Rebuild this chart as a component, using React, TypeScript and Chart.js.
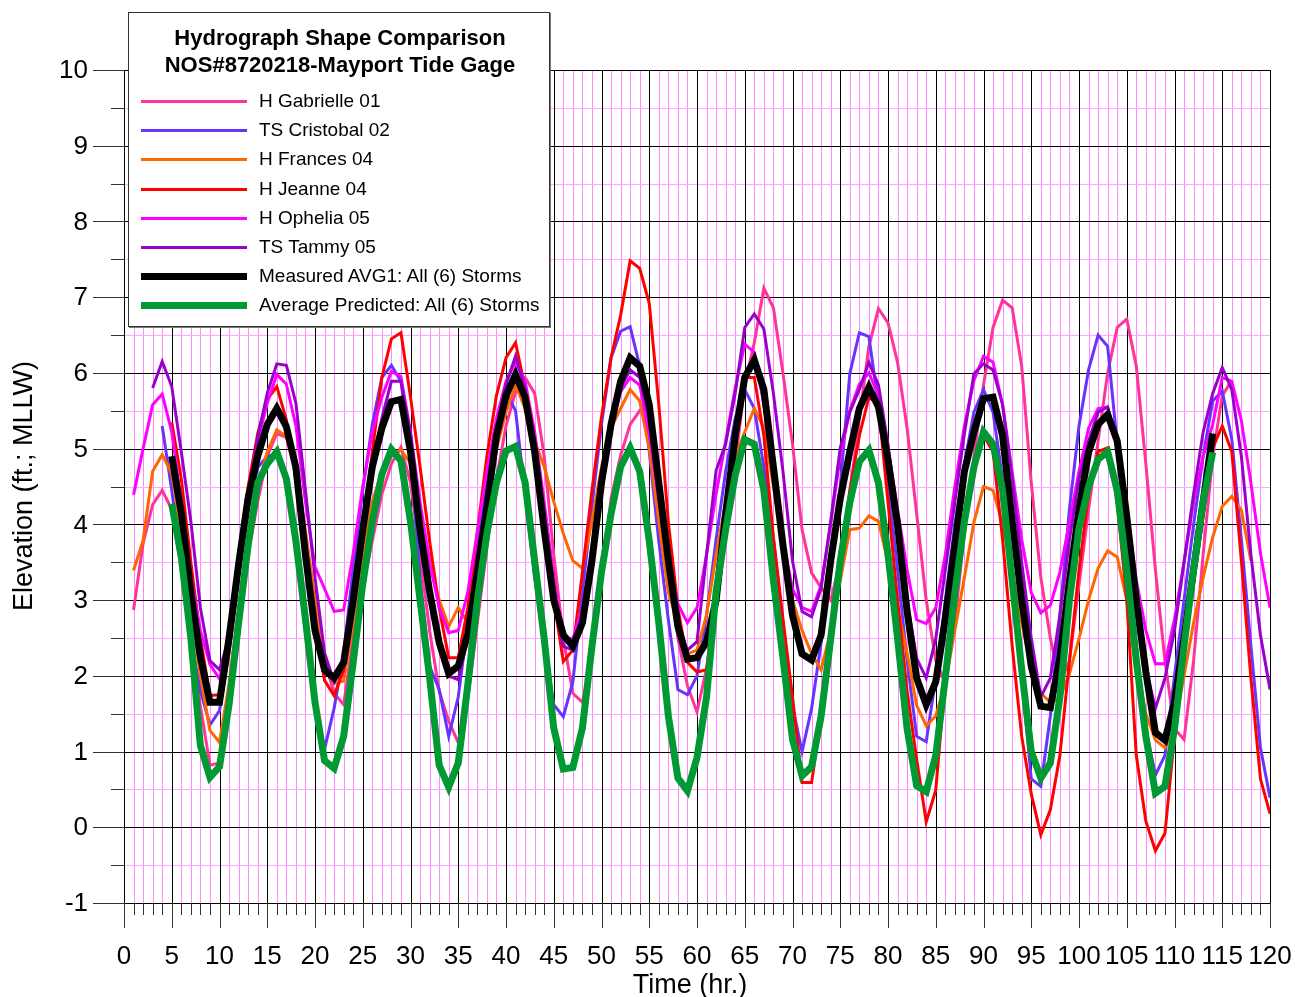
import React, { useEffect, useRef } from "react";
import { Chart, registerables } from "chart.js";

Chart.register(...registerables);

// ---- axis ranges / ticks ----
const X_MIN = 0;
const X_MAX = 120;
const Y_MIN = -1;
const Y_MAX = 10;
const xTickLabels = ["0","5","10","15","20","25","30","35","40","45","50","55","60","65","70","75","80","85","90","95","100","105","110","115","120"];
const yTickLabels = ["-1","0","1","2","3","4","5","6","7","8","9","10"];

const chartTitle = ["Hydrograph Shape Comparison", "NOS#8720218-Mayport Tide Gage"];
const xTitle = "Time (hr.)";
const yTitle = "Elevation (ft.; MLLW)";

// ---- series (hourly values, first hour given by *Start) ----
const gabrielleStart = 1;
const gabrielle = [2.87,3.75,4.26,4.45,4.2,3.4,2.5,1.6,0.82,0.85,1.7,2.7,3.6,4.3,4.9,5.2,5.15,4.8,3.9,3.0,2.2,1.77,1.62,2.5,3.16,3.78,4.4,4.8,5.02,4.55,3.6,2.6,1.8,1.4,1.12,1.7,2.7,3.7,4.6,5.3,5.75,5.94,5.73,4.9,3.6,2.5,1.77,1.65,2.24,3.26,4.34,4.91,5.32,5.5,5.65,4.7,3.5,2.5,1.87,1.52,2.1,3.0,4.0,4.81,5.84,6.4,7.12,6.86,6.0,5.06,3.93,3.36,3.16,3.0,3.5,4.4,5.4,6.35,6.85,6.66,6.14,5.27,4.14,3.0,2.2,1.9,2.7,3.9,4.9,5.84,6.6,6.96,6.86,6.09,4.55,3.3,2.5,1.9,2.2,3.2,4.2,5.1,6.0,6.6,6.71,6.09,4.8,3.4,2.2,1.3,1.16,2.2,3.6,4.9,5.7,5.9];

const cristobalStart = 4;
const cristobal = [5.3,4.45,3.5,2.5,1.8,1.35,1.54,2.3,3.3,4.2,4.75,4.9,4.92,4.59,3.88,2.9,1.6,1.03,1.57,2.29,3.42,4.45,5.32,5.94,6.1,5.89,4.96,3.3,2.13,1.82,1.2,1.72,2.7,3.7,4.6,5.3,5.75,5.5,4.4,3.3,2.4,1.62,1.46,1.92,3.1,4.24,5.32,6.2,6.55,6.61,6.09,4.96,3.78,2.74,1.82,1.75,2.0,2.8,3.8,4.7,5.4,5.78,5.53,4.76,3.8,2.7,1.6,1.0,1.57,2.44,3.5,4.5,5.99,6.53,6.48,5.58,4.55,3.4,2.2,1.2,1.13,1.97,3.0,4.0,4.8,5.48,5.78,5.48,4.6,3.4,2.0,0.64,0.54,1.47,2.8,4.2,5.3,6.04,6.5,6.35,5.06,3.7,2.4,1.3,0.69,0.95,2.0,3.0,4.0,4.9,5.63,5.76,5.12,3.8,2.4,1.05,0.39];

const francesStart = 1;
const frances = [3.39,3.79,4.7,4.92,4.67,3.9,2.9,2.0,1.28,1.12,1.9,2.9,3.8,4.5,4.96,5.25,5.16,4.7,3.9,3.0,2.3,1.9,1.93,2.7,3.6,4.3,4.7,4.9,4.98,4.81,4.2,3.5,3.0,2.65,2.9,2.7,3.4,4.3,5.0,5.48,5.84,5.53,5.1,4.76,4.3,3.88,3.52,3.42,4.04,4.76,5.27,5.53,5.78,5.63,5.0,4.04,3.1,2.7,2.29,2.34,2.8,3.6,4.3,4.9,5.22,5.53,5.27,4.5,3.7,3.0,2.6,2.29,2.08,2.6,3.26,3.93,3.95,4.11,4.04,3.5,2.9,2.3,1.61,1.34,1.47,1.9,2.6,3.3,4.03,4.5,4.45,4.0,3.4,2.7,2.1,1.77,1.65,1.7,2.03,2.49,3.0,3.42,3.65,3.57,3.0,2.2,1.5,1.15,1.05,1.3,2.0,2.7,3.3,3.83,4.24,4.37,4.19,3.52];

const jeanneStart = 5;
const jeanne = [5.35,4.6,3.5,2.5,1.74,1.75,2.6,3.6,4.5,5.2,5.65,5.82,5.38,4.6,3.6,2.7,1.94,1.74,2.08,2.9,3.93,4.96,5.94,6.45,6.53,5.68,4.76,3.78,2.9,2.24,2.24,2.9,3.9,4.9,5.7,6.2,6.4,5.8,5.0,4.0,3.0,2.19,2.34,3.37,4.45,5.42,6.2,6.76,7.48,7.38,6.92,5.58,4.03,2.9,2.18,2.05,2.08,3.0,4.04,4.96,5.94,5.94,5.17,3.83,2.75,1.72,0.59,0.59,1.47,2.49,3.52,4.45,5.17,5.68,5.58,4.29,3.0,1.8,0.9,0.07,0.49,1.97,3.0,4.0,4.7,5.17,4.96,3.8,2.4,1.2,0.44,-0.1,0.23,0.95,2.2,3.4,4.4,4.96,5.01,4.3,3.0,0.95,0.08,-0.31,-0.08,1.21,2.4,3.4,4.3,5.01,5.3,4.96,3.52,1.97,0.64,0.18];

const opheliaStart = 1;
const ophelia = [4.39,5.0,5.58,5.72,5.22,4.3,3.3,2.6,2.15,1.96,2.45,3.4,4.3,5.1,5.6,5.98,5.85,5.3,4.3,3.44,3.15,2.85,2.87,3.62,4.5,5.22,5.68,6.02,5.95,5.22,4.3,3.5,2.9,2.57,2.6,3.11,3.9,4.7,5.4,5.89,6.14,5.89,5.22,4.3,3.3,2.5,2.49,2.9,3.7,4.6,5.3,5.75,5.94,5.84,5.2,4.3,3.5,2.95,2.7,2.9,3.6,4.4,5.1,5.8,6.38,6.27,5.58,4.7,3.8,3.15,2.9,2.85,3.2,4.0,4.9,5.5,5.85,6.0,5.7,5.0,4.2,3.4,2.74,2.69,2.9,3.6,4.5,5.3,5.9,6.22,6.14,5.58,4.7,3.8,3.1,2.83,2.93,3.37,4.03,4.7,5.27,5.53,5.55,5.06,4.2,3.26,2.6,2.16,2.16,2.75,3.5,4.3,4.9,5.32,5.94,5.89,5.37,4.55,3.62,2.9];

const tammyStart = 3;
const tammy = [5.8,6.15,5.82,4.96,4.04,2.9,2.2,2.08,2.5,3.42,4.34,5.15,5.73,6.12,6.1,5.6,4.45,3.3,2.3,1.92,2.18,3.0,3.95,4.8,5.4,5.89,5.89,5.2,4.1,3.2,2.5,2.0,1.95,2.5,3.4,4.35,5.25,5.85,6.22,5.8,5.0,4.0,3.0,2.39,2.34,2.8,3.6,4.6,5.35,5.8,6.04,5.94,5.4,4.4,3.4,2.6,2.34,2.45,3.6,4.71,5.06,5.73,6.6,6.78,6.58,5.73,4.7,3.52,2.85,2.78,3.16,4.04,5.01,5.48,5.78,6.14,5.84,5.06,4.0,3.0,2.23,1.97,2.49,3.4,4.3,5.2,5.99,6.12,6.04,5.58,4.6,3.5,2.5,1.72,1.97,2.8,3.8,4.6,5.1,5.48,5.55,5.0,4.0,3.0,2.1,1.57,1.97,2.6,3.5,4.4,5.22,5.73,6.07,5.78,4.9,3.6,2.54,1.82];

const measuredStart = 5;
const measuredAvg = [4.9,4.15,3.1,2.25,1.65,1.65,2.5,3.47,4.35,4.9,5.32,5.53,5.29,4.75,3.6,2.6,2.08,1.97,2.18,3.0,3.93,4.76,5.27,5.62,5.65,4.96,3.93,3.11,2.44,2.03,2.13,2.55,3.37,4.24,5.17,5.7,5.98,5.68,4.96,3.93,3.0,2.54,2.39,2.7,3.52,4.55,5.32,5.89,6.2,6.09,5.58,4.55,3.52,2.65,2.22,2.24,2.45,3.0,4.14,5.17,5.94,6.17,5.78,4.76,3.73,2.8,2.29,2.21,2.54,3.52,4.34,4.96,5.53,5.81,5.55,4.85,4.0,2.85,1.97,1.62,1.92,2.75,3.72,4.7,5.22,5.66,5.68,5.17,4.04,3.0,2.13,1.6,1.58,2.24,3.26,4.2,4.95,5.32,5.45,5.1,4.1,3.0,2.05,1.25,1.15,1.65,2.5,3.4,4.3,5.2];

const predictedStart = 5;
const predictedAvg = [4.27,3.57,2.5,1.08,0.66,0.8,1.62,2.7,3.73,4.55,4.8,4.96,4.6,3.78,2.75,1.65,0.88,0.78,1.2,2.18,3.21,4.04,4.66,4.99,4.84,4.04,3.0,1.98,0.82,0.53,0.85,1.88,3.0,3.88,4.55,4.97,5.03,4.55,3.52,2.49,1.31,0.77,0.79,1.31,2.39,3.37,4.14,4.76,5.01,4.7,3.78,2.7,1.47,0.65,0.48,0.92,1.72,3.11,3.93,4.65,5.12,5.06,4.45,3.26,2.24,1.16,0.68,0.8,1.47,2.49,3.52,4.29,4.83,4.98,4.55,3.6,2.5,1.3,0.55,0.47,0.95,1.97,3.1,4.04,4.76,5.22,5.06,4.45,3.26,2.08,1.0,0.65,0.85,1.72,3.0,3.95,4.5,4.86,4.96,4.45,3.4,2.2,1.2,0.45,0.54,1.3,2.4,3.4,4.3,4.95];

const seriesNames = [
  "H Gabrielle 01",
  "TS Cristobal 02",
  "H Frances 04",
  "H Jeanne 04",
  "H Ophelia 05",
  "TS Tammy 05",
  "Measured AVG1: All (6) Storms",
  "Average Predicted: All (6) Storms",
];
const seriesColors = ["#FF3399", "#6633FF", "#FF6600", "#FF0000", "#FF00FF", "#9900CC", "#000000", "#009933"];
const seriesWidths = [3, 3, 3, 3, 3, 3, 7, 7];

const seriesValues = [gabrielle, cristobal, frances, jeanne, ophelia, tammy, measuredAvg, predictedAvg];
const seriesStarts = [gabrielleStart, cristobalStart, francesStart, jeanneStart, opheliaStart, tammyStart, measuredStart, predictedStart];

const FONT = "'Liberation Sans', Arial, Helvetica, sans-serif";
const W = 1297;
const H = 997;
const PAD = { left: 124, right: 27, top: 70, bottom: 94 };

const gridPlugin = {
  id: "hydroGrid",
  beforeDatasetsDraw(chart: any) {
    const { ctx, chartArea: a, scales } = chart;
    const x = scales.x;
    const y = scales.y;
    ctx.save();
    const line = (x1: number, y1: number, x2: number, y2: number) => {
      ctx.beginPath();
      ctx.moveTo(x1, y1);
      ctx.lineTo(x2, y2);
      ctx.stroke();
    };
    const cx = (v: number) => Math.round(x.getPixelForValue(v)) + 0.5;
    const cy = (v: number) => Math.round(y.getPixelForValue(v)) + 0.5;
    // minor grid
    ctx.lineWidth = 1;
    ctx.strokeStyle = "#FF88FF";
    for (let t = X_MIN; t <= X_MAX; t++) {
      if (t % 5 !== 0) line(cx(t), a.top, cx(t), a.bottom);
    }
    ctx.strokeStyle = "#FFA8FF";
    for (let v = Y_MIN; v <= Y_MAX; v += 0.5) {
      if (Math.abs(v - Math.round(v)) > 0.01) line(a.left, cy(v), a.right, cy(v));
    }
    // major grid
    ctx.strokeStyle = "#000000";
    for (let t = X_MIN; t <= X_MAX; t += 5) line(cx(t), a.top, cx(t), a.bottom);
    for (let v = Y_MIN; v <= Y_MAX; v += 1) line(a.left, cy(v), a.right, cy(v));
    // ticks
    ctx.strokeStyle = "#333333";
    for (let t = X_MIN; t <= X_MAX; t++) {
      const len = t % 5 === 0 ? 25 : 12;
      line(cx(t), a.bottom, cx(t), a.bottom + len);
    }
    for (let v = Y_MIN; v <= Y_MAX; v += 0.5) {
      const major = Math.abs(v - Math.round(v)) < 0.01;
      const len = major ? 31 : 13;
      line(a.left - len, cy(v), a.left, cy(v));
    }
    // tick labels
    ctx.fillStyle = "#000000";
    ctx.font = `26px ${FONT}`;
    ctx.textAlign = "center";
    ctx.textBaseline = "middle";
    xTickLabels.forEach((lab) => {
      ctx.fillText(lab, x.getPixelForValue(Number(lab)), 957);
    });
    ctx.textAlign = "right";
    yTickLabels.forEach((lab) => {
      ctx.fillText(lab, 88, y.getPixelForValue(Number(lab)) + 1);
    });
    // axis titles
    ctx.font = `27px ${FONT}`;
    ctx.textAlign = "center";
    ctx.fillText(xTitle, 690, 986);
    ctx.translate(25, 486);
    ctx.rotate(-Math.PI / 2);
    ctx.fillText(yTitle, 0, 0);
    ctx.restore();
  },
};

export default function App() {
  const ref = useRef<HTMLCanvasElement | null>(null);
  useEffect(() => {
    if (!ref.current) return;
    const datasets = seriesValues.map((vals, i) => ({
      label: seriesNames[i],
      data: vals.map((v, k) => ({ x: seriesStarts[i] + k, y: v })),
      borderColor: seriesColors[i],
      backgroundColor: seriesColors[i],
      borderWidth: seriesWidths[i],
      pointRadius: 0,
      tension: 0,
      fill: false,
      order: seriesValues.length - i,
    }));
    const chart = new Chart(ref.current, {
      type: "line",
      data: { datasets },
      options: {
        animation: false,
        responsive: false,
        devicePixelRatio: 1,
        layout: { padding: PAD },
        plugins: { legend: { display: false }, tooltip: { enabled: false }, title: { display: false } },
        scales: {
          x: { type: "linear", min: X_MIN, max: X_MAX, display: false },
          y: { type: "linear", min: Y_MIN, max: Y_MAX, display: false },
        },
      },
      plugins: [gridPlugin],
    });
    return () => chart.destroy();
  }, []);

  const rowY = [100, 129, 158, 188, 217, 246, 275, 304];
  return (
    <div style={{ position: "absolute", left: 0, top: 0, width: W, height: H, background: "#fff", fontFamily: FONT }}>
      <canvas ref={ref} width={W} height={H} style={{ position: "absolute", left: 0, top: 0, width: W, height: H }} />
      <div
        style={{
          position: "absolute",
          left: 128,
          top: 12,
          width: 422,
          height: 315,
          background: "#fff",
          border: "1px solid #333",
          boxShadow: "1px 1px 0 #777",
          boxSizing: "border-box",
        }}
      >
        {chartTitle.map((t, i) => (
          <div
            key={t}
            style={{
              position: "absolute",
              left: 0,
              width: 422,
              top: 12 + i * 27,
              textAlign: "center",
              fontWeight: "bold",
              fontSize: 22,
              lineHeight: "26px",
              color: "#000",
              whiteSpace: "nowrap",
            }}
          >
            {t}
          </div>
        ))}
        {seriesNames.map((n, i) => (
          <React.Fragment key={n}>
            <div
              style={{
                position: "absolute",
                left: 12,
                width: 106,
                top: rowY[i] - 12 - seriesWidths[i] / 2,
                height: seriesWidths[i],
                background: seriesColors[i],
              }}
            />
            <div
              style={{
                position: "absolute",
                left: 130,
                top: rowY[i] - 12 - 12,
                fontSize: 19,
                lineHeight: "24px",
                color: "#000",
                whiteSpace: "nowrap",
              }}
            >
              {n}
            </div>
          </React.Fragment>
        ))}
      </div>
    </div>
  );
}
